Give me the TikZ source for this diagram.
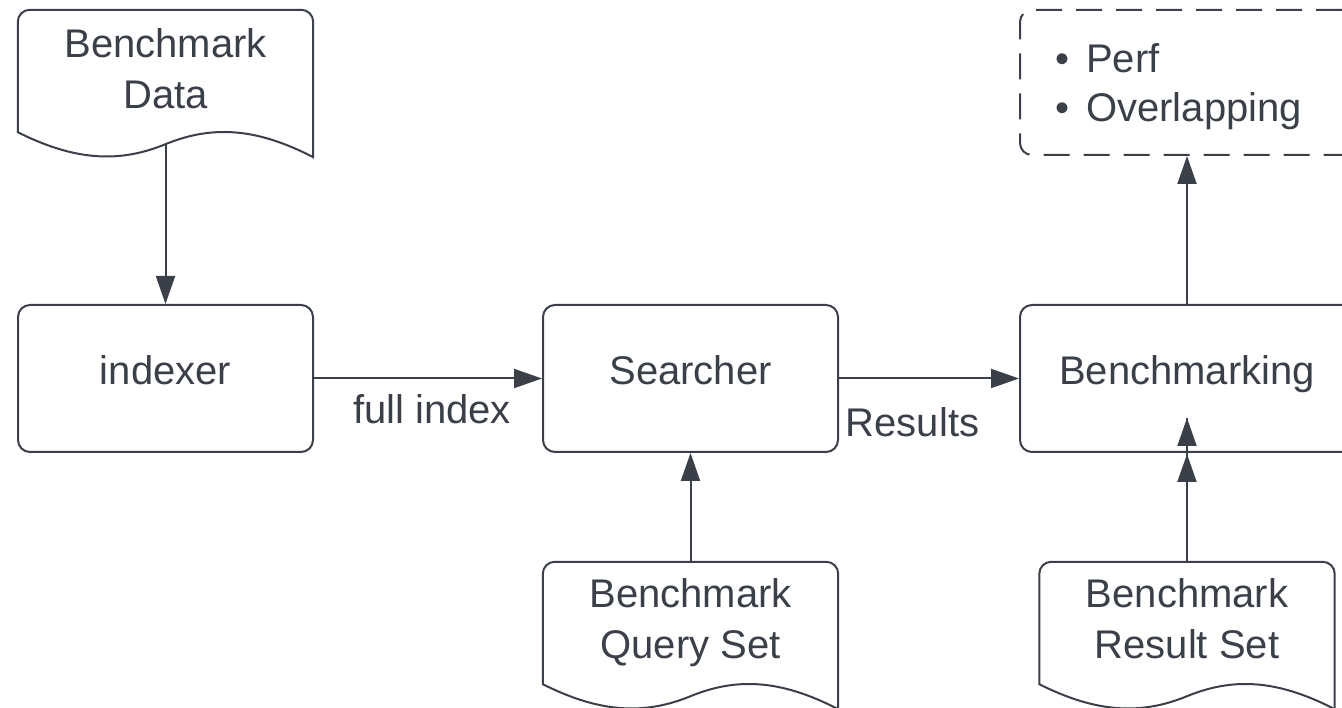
\documentclass[tikz,border=0pt]{standalone}
\usepackage{fontspec}
\setmainfont{Liberation Sans}
\usetikzlibrary{arrows.meta,decorations.markings}
\definecolor{ink}{RGB}{59,64,72}

% document shape: rounded top, wavy bottom; drawn around an empty node
\newcommand{\drawdoc}[1]{%
  \draw[outline] ([yshift=12pt]#1.south west) -- ([yshift=-12pt]#1.north west)
    arc[start angle=180, end angle=90, radius=12pt] -- ([xshift=-12pt]#1.north east)
    arc[start angle=90, end angle=0, radius=12pt] -- ([yshift=-13pt]#1.south east)
    .. controls ([xshift=88pt,yshift=18pt]#1.south) and ([xshift=44pt,yshift=18pt]#1.south) .. (#1.south)
    .. controls ([xshift=-44pt,yshift=-18pt]#1.south) and ([xshift=-88pt,yshift=-18pt]#1.south) .. ([yshift=12pt]#1.south west)
    -- cycle;}
% bullet with the wider gap used in the notes box
\newcommand{\notebullet}{•\hspace{17pt}}

\begin{document}
\begin{tikzpicture}[x=1pt, y=-1pt, color=ink,
  txt/.style={font=\fontsize{40}{51}\selectfont},
  outline/.style={draw, line width=2pt},
  box/.style={outline, txt, rounded corners=12pt, minimum width=295pt, minimum height=147pt,
    inner sep=0pt, text height=29pt, text depth=16pt},
  notebox/.style={draw, line width=2pt, dash pattern=on 26pt off 14pt, rounded corners=12pt,
    minimum width=334pt, minimum height=145pt, inner sep=0pt},
  docbody/.style={minimum width=295pt, minimum height=134pt, inner sep=0pt},
  doctext/.style={txt, anchor=north, inner sep=0pt, align=center},
  lbl/.style={txt, inner sep=0pt},
  flow/.style={outline, -{Triangle[length=28pt, width=19pt]}},
]
\useasboundingbox (0,0) rectangle (1342,708);
\clip (0,0) rectangle (1342,708);

% process boxes
\node[box] (indexer) at (165.5,378.5) {indexer};
\node[box] (searcher) at (690.5,378.5) {Searcher};
\node[box, minimum width=334pt] (bench) at (1187,378.5) {Benchmarking};

% outputs
\node[notebox] (metrics) at (1187,82.5) {};
\node[lbl, anchor=north west, align=left, font=\fontsize{40}{49}\selectfont] (metricsT) at (1055,43)
  {\notebullet Perf\\\notebullet Overlapping};

% input documents
\node[docbody] (data) at (165.5,77) {};
\node[docbody] (query) at (690.5,629) {};
\node[docbody] (resultset) at (1187,629) {};
\drawdoc{data}
\drawdoc{query}
\drawdoc{resultset}
\node[doctext] (dataT) at ([yshift=-18.4pt]data.north) {Benchmark\\Data};
\node[doctext] (queryT) at ([yshift=-16.4pt]query.north) {Benchmark\\Query Set};
\node[doctext] (resultT) at ([yshift=-16.4pt]resultset.north) {Benchmark\\Result Set};

% connectors
\draw[flow] (data.south) -- (indexer.north);
\draw[flow] (indexer.east) -- node[lbl, below=15pt, xshift=4pt] (fullidx) {full index} (searcher.west);
\draw[flow] (searcher.east) -- node[lbl, below=28pt, xshift=-16.5pt] (results) {Results} (bench.west);
\draw[flow] (query.north) -- (searcher.south);
\draw[flow] (bench.north) -- (metrics.south);
\coordinate (benchin) at ([yshift=35pt]bench.south);
\draw[outline, postaction={decorate}, decoration={markings,
    mark=at position -36pt with {\arrow{Triangle[length=28pt, width=19pt]}},
    mark=at position 1 with {\arrow{Triangle[length=28pt, width=19pt]}}}]
  (resultset.north) -- (benchin);
\end{tikzpicture}
\end{document}
